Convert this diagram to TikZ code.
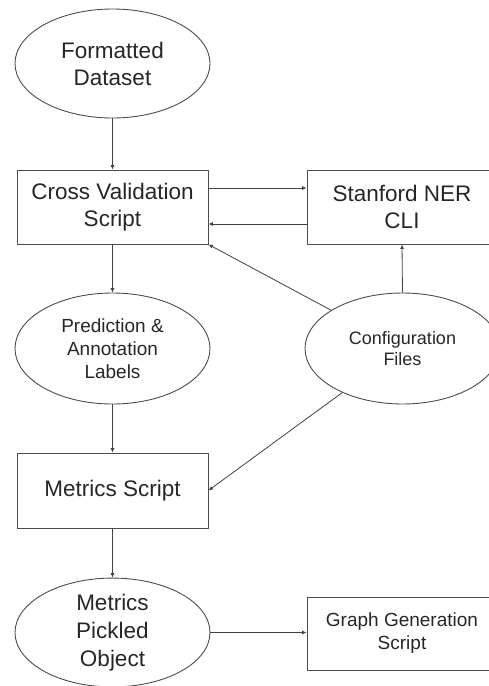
\documentclass[tikz,border=0pt]{standalone}
\usepackage{fontspec}
\setmainfont{Liberation Sans}
\usetikzlibrary{shapes.geometric,arrows.meta}
\begin{document}
\begin{tikzpicture}[x=1pt,y=1pt,
  every node/.style={text=black!85, align=center, inner sep=0pt},
  boxnode/.style={draw=black!70, line width=0.9pt, rectangle, minimum width=191pt, minimum height=74pt},
  ellnode/.style={draw=black!70, line width=0.9pt, ellipse, minimum width=195pt, minimum height=109pt},
  big/.style={font=\fontsize{22.5}{27}\selectfont},
  small/.style={font=\fontsize{19}{23}\selectfont},
  tiny/.style={font=\fontsize{18}{21}\selectfont},
  conn/.style={draw=black!75, line width=0.8pt, -{Latex[length=4.5pt,width=4pt]}}
]
\useasboundingbox (0,0) rectangle (489,-686);
\node[ellnode, big] (fd) at (112.5,-63.5) {Formatted\\Dataset};
\node[boxnode, big] (cv) at (112.5,-207) {Cross Validation\\Script};
\node[boxnode, big, minimum width=190pt] (sn) at (402,-207) {Stanford NER\\CLI};
\node[ellnode, small, minimum height=111pt] (pa) at (112.5,-348.5) {Prediction \&\\Annotation\\Labels};
\node[ellnode, tiny, minimum height=111pt] (cf) at (402.5,-348.5) {Configuration\\Files};
\node[boxnode, big, minimum height=75pt] (ms) at (112.5,-490.5) {Metrics Script};
\node[ellnode, big, font=\fontsize{22.5}{28}\selectfont, minimum height=105pt] (mp) at (112.5,-632.5) {Metrics\\Pickled\\Object};
\node[boxnode, small, minimum width=190pt, minimum height=73pt] (gg) at (402,-633.5) {Graph Generation\\Script};

\draw[conn] (fd.south) -- (cv.north);
\draw[conn] ([yshift=19pt]cv.east) -- ([yshift=19pt]sn.west);
\draw[conn] ([yshift=-17pt]sn.west) -- ([yshift=-17pt]cv.east);
\draw[conn] (cf) -- (cv.south east);
\draw[conn] (cf.north) -- (sn.south);
\draw[conn] (cv.south) -- (pa.north);
\draw[conn] (pa.south) -- (ms.north);
\draw[conn] (cf) -- (ms.east);
\draw[conn] (ms.south) -- (mp.north);
\draw[conn] (mp.east) -- (gg.west |- mp.east);
\end{tikzpicture}
\end{document}
